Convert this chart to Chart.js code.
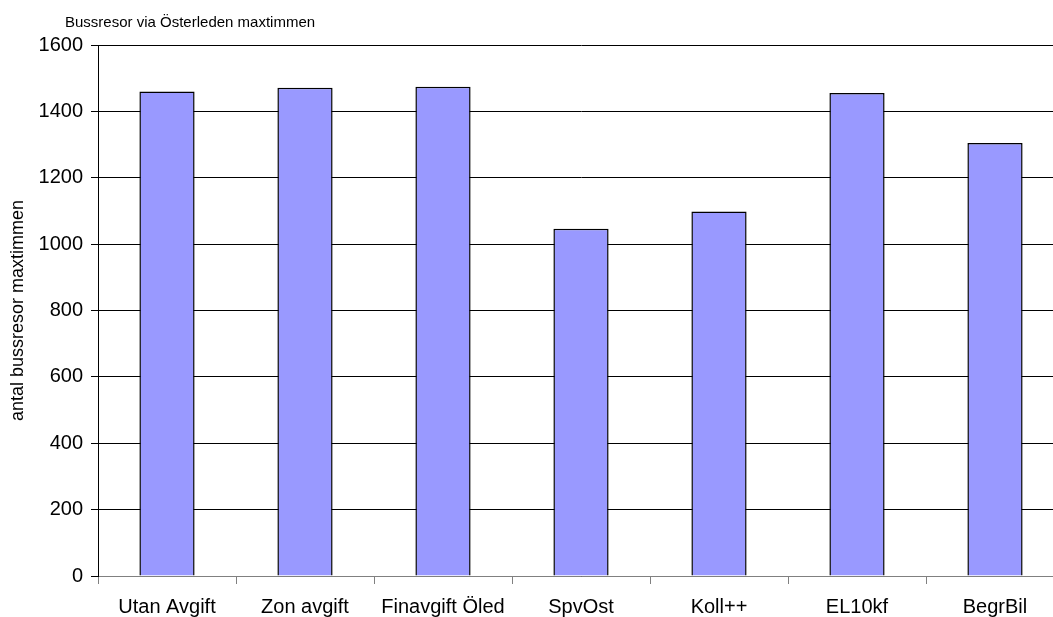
<!DOCTYPE html>
<html>
<head>
<meta charset="utf-8">
<script src="https://cdn.jsdelivr.net/npm/chart.js@4/dist/chart.umd.min.js"></script>
<style>
  html, body { margin: 0; padding: 0; background: #fff; overflow: hidden; }
  /* the original picture is cut off at the right edge, inside the last category */
  #wrap { width: 1053px; height: 617px; position: relative; overflow: hidden; }
</style>
</head>
<body>
<div id="wrap"><canvas id="busChart" width="1080" height="617"></canvas></div>
<script>
// data
const categories = ['Utan Avgift', 'Zon avgift', 'Finavgift Öled', 'SpvOst', 'Koll++', 'EL10kf', 'BegrBil'];
const busTrips = [1460, 1471, 1474, 1046, 1098, 1455, 1305];
const yTicks = [0, 200, 400, 600, 800, 1000, 1200, 1400, 1600];

const chartTitle = 'Bussresor via Österleden maxtimmen';
const yTitle = 'antal bussresor maxtimmen';
const FONT = '"Liberation Sans", Arial, sans-serif';

// small title in the top-left corner
const cornerTitle = {
  id: 'cornerTitle',
  afterDraw(chart) {
    const c = chart.ctx;
    c.save();
    c.font = '15px ' + FONT;
    c.fillStyle = '#000';
    c.textBaseline = 'middle';
    c.fillText(chartTitle, 65, 23);
    c.restore();
  }
};

const ctx = document.getElementById('busChart').getContext('2d');
new Chart(ctx, {
  type: 'bar',
  data: {
    labels: categories,
    datasets: [{
      data: busTrips,
      backgroundColor: '#9999ff',
      borderColor: '#000',
      borderWidth: 1.5,
      barPercentage: 0.4,
      categoryPercentage: 1
    }]
  },
  options: {
    responsive: false,
    animation: false,
    layout: { padding: { left: 0, right: 16, top: 45, bottom: 0 } },
    plugins: {
      legend: { display: false },
      tooltip: { enabled: false }
    },
    scales: {
      x: {
        grid: { drawOnChartArea: false, drawTicks: true, tickLength: 8, color: '#808080', offset: true },
        border: { color: '#808080' },
        ticks: { color: '#000', padding: 11, maxRotation: 0, font: { family: FONT, size: 20 } },
        afterFit: s => { s.height = 41; }
      },
      y: {
        min: 0,
        max: 1600,
        afterBuildTicks: s => { s.ticks = yTicks.map(v => ({ value: v })); },
        grid: { color: '#000', lineWidth: 1, tickLength: 7 },
        border: { color: '#000' },
        ticks: { color: '#000', padding: 8, callback: v => String(v), font: { family: FONT, size: 20 } },
        title: {
          display: true,
          text: yTitle,
          color: '#000',
          padding: { top: 7, bottom: 0 },
          font: { family: FONT, size: 18 }
        },
        afterFit: s => { s.width = 98; }
      }
    }
  },
  plugins: [cornerTitle]
});
</script>
</body>
</html>
